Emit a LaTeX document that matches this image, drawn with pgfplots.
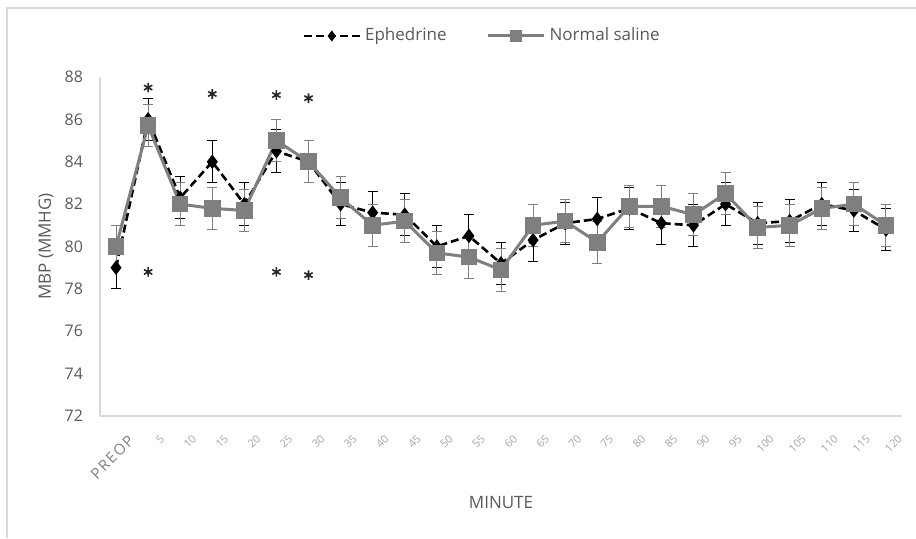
\documentclass[border=0pt]{standalone}
\usepackage{fontspec}
\setmainfont{Open Sans}
\usepackage{pgfplots}
\pgfplotsset{compat=1.18}
\usepackage{pgfplotstable}
\definecolor{nsgray}{HTML}{7F7F7F}
\definecolor{axgray}{HTML}{D9D9D9}
\definecolor{txtgray}{HTML}{595959}
\definecolor{ltgray}{HTML}{A6A6A6}

\pgfplotstableread{
x eph epherr ns nserr
0 79.0 1 80.0 1
1 86.0 1 85.7 1
2 82.3 1 82.0 1
3 84.0 1 81.8 1
4 82.0 1 81.7 1
5 84.5 1 85.0 1
6 84.0 1 84.0 1
7 82.0 1 82.3 1
8 81.6 1 81.0 1
9 81.5 1 81.2 1
10 80.0 1 79.7 1
11 80.5 1 79.5 1
12 79.2 1 78.9 1
13 80.3 1 81.0 1
14 81.1 1 81.2 1
15 81.3 1 80.2 1
16 81.8 1 81.9 1
17 81.1 1 81.9 1
18 81.0 1 81.5 1
19 82.0 1 82.5 1
20 81.1 1 80.9 1
21 81.2 1 81.0 1
22 82.0 1 81.8 1
23 81.7 1 82.0 1
24 80.8 1 81.0 1
}\datatable

\begin{document}
\begin{tikzpicture}
\path[use as bounding box] (0,0) rectangle (458pt,-269pt);
\draw[axgray, line width=1pt] (3.5pt,-269pt) -- (3.5pt,-4pt) -- (458pt,-4pt);
\begin{axis}[
  at={(50pt,-208pt)}, anchor=south west,
  width=401pt, height=169.5pt, scale only axis,
  xmin=-0.5, xmax=24.5, ymin=72, ymax=88,
  ytick={72,74,...,88},
  xtick={0,...,24},
  xticklabels={{\fontsize{7.5}{8}\selectfont\textcolor{nsgray}{P\kern0.8pt R\kern0.8pt E\kern0.8pt O\kern0.8pt P}},5,10,15,20,25,30,35,40,45,50,55,60,65,70,75,80,85,90,95,100,105,110,115,120},
  x tick label style={rotate=45, anchor=north east, font=\fontsize{5.5}{6}\selectfont, text=ltgray, inner sep=0.3pt, yshift=-10pt, xshift=-2pt},
  y tick label style={font=\fontsize{8}{9}\selectfont, text=txtgray, xshift=-5pt},
  /pgf/number format/assume math mode=true,
  axis lines=left,
  axis line style={-, axgray, line width=0.75pt},
  major tick length=0pt,
  xlabel={MINUTE}, ylabel={MBP (MMHG)},
  every axis x label/.style={at={(axis description cs:0.5,-0.2566)}, anchor=center, font=\fontsize{8.5}{10}\selectfont, text=txtgray},
  every axis y label/.style={at={(axis description cs:-0.0673,0.5)}, rotate=90, anchor=center, font=\fontsize{8.5}{10}\selectfont, text=txtgray},
  legend columns=2,
  legend style={at={(0.252,1.121)}, anchor=west, draw=none, fill=none, inner sep=0pt,
    font=\fontsize{8.5}{10}\selectfont, text=txtgray, /tikz/every even column/.append style={column sep=18pt}},
  legend cell align=left,
  legend image code/.code={\draw[mark repeat=2,mark phase=2,#1] plot coordinates {(0pt,0pt) (14pt,0pt) (28pt,0pt)};},
  clip=false,
]
\addplot[black, line width=1.3pt, dash pattern=on 4pt off 2pt, mark=diamond*, mark size=2.6pt,
  mark options={solid, fill=black},
  legend image post style={mark size=1.7pt},
  error bars/.cd, y dir=both, y explicit,
  error bar style={solid, black, line width=0.5pt},
  error mark options={rotate=90, mark size=2.5pt, solid, black, line width=0.5pt}]
  table[x=x, y=eph, y error=epherr] {\datatable};
\addlegendentry{Ephedrine}
\addplot[nsgray, line width=1.5pt, mark=square*, mark size=3.4pt,
  mark options={solid, fill=nsgray},
  legend image post style={mark size=2.1pt},
  error bars/.cd, y dir=both, y explicit,
  error bar style={solid, nsgray, line width=0.5pt},
  error mark options={rotate=90, mark size=2.5pt, solid, nsgray, line width=0.5pt}]
  table[x=x, y=ns, y error=nserr] {\datatable};
\addlegendentry{Normal saline}
\addplot[only marks, mark=asterisk, mark size=2.4pt, black!85, line width=0.8pt, forget plot]
  coordinates {(1,87.5) (3,87.2) (5,87.15) (6,87.0) (1,78.8) (5,78.8) (6,78.65)};
\end{axis}
\end{tikzpicture}
\end{document}
